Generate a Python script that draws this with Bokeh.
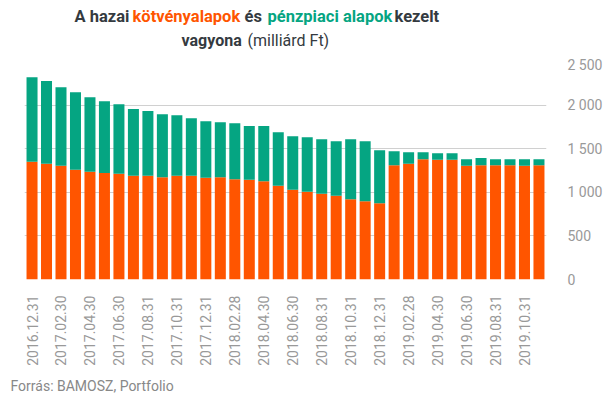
import math
from bokeh.plotting import figure
from bokeh.models import ColumnDataSource, FixedTicker, Range1d
from bokeh.layouts import column
from bokeh.core.properties import value
from bokeh.embed import file_html
from bokeh.resources import INLINE

dates = ["2016.12.31", "2017.01.31", "2017.02.30", "2017.03.31", "2017.04.30", "2017.05.31",
         "2017.06.30", "2017.07.31", "2017.08.31", "2017.09.30", "2017.10.31", "2017.11.30",
         "2017.12.31", "2018.01.31", "2018.02.28", "2018.03.31", "2018.04.30", "2018.05.31",
         "2018.06.30", "2018.07.31", "2018.08.31", "2018.09.30", "2018.10.31", "2018.11.30",
         "2018.12.31", "2019.01.31", "2019.02.28", "2019.03.31", "2019.04.30", "2019.05.31",
         "2019.06.30", "2019.07.31", "2019.08.31", "2019.09.30", "2019.10.31", "2019.11.30"]

kotveny = [1350, 1327, 1304, 1258, 1235, 1220, 1212, 1189, 1189, 1174, 1189, 1189,
           1166, 1174, 1151, 1143, 1128, 1074, 1028, 1005, 982, 960, 921, 898,
           875, 1311, 1327, 1380, 1372, 1372, 1304, 1311, 1311, 1311, 1304, 1311]

penzpiaci = [970, 948, 902, 890, 856, 825, 799, 765, 742, 722, 696, 661,
             650, 630, 642, 616, 631, 616, 616, 627, 627, 626, 688, 688,
             608, 161, 133, 80, 77, 77, 76, 81, 69, 69, 76, 69]

y_ticks = [0, 500, 1000, 1500, 2000, 2500]
y_tick_labels = ["0", "500", "1 000", "1 500", "2 000", "2 500"]

ORANGE = "#FF5500"
GREEN = "#05A582"
DARK = "#343a40"
GRAY = "#999999"
W = 605


def blank(height):
    f = figure(width=W, height=height, x_range=Range1d(0, W), y_range=Range1d(0, height),
               output_backend="svg", toolbar_location=None,
               x_axis_location=None, y_axis_location=None, frame_align=False,
               min_border_left=0, min_border_right=0, min_border_top=0, min_border_bottom=0)
    f.grid.visible = False
    f.outline_line_color = None
    return f


# ---- title strip ----
TH = 56
tf = blank(TH)
TFONT = "Roboto"


def seg(f, h, text, x, y_img, color, bold=True, size="16.5px", font=TFONT):
    f.text(x=[x], y=[h - y_img], text=[text], text_color=color,
           text_font=value(font), text_font_size=size,
           text_font_style="bold" if bold else "normal",
           text_baseline="alphabetic", text_align="left")


L1, L2 = 16, 40
seg(tf, TH, "A hazai", 74, L1, DARK)
seg(tf, TH, "kötvényalapok", 132, L1, ORANGE)
seg(tf, TH, "és", 244, L1, DARK)
seg(tf, TH, "pénzpiaci alapok", 267, L1, GREEN)
seg(tf, TH, "kezelt", 394, L1, DARK)
seg(tf, TH, "vagyona", 181, L2, DARK, size="16px")
seg(tf, TH, "(milliárd Ft)", 247, L2, DARK, bold=False, size="16px")

# ---- main chart ----
src = ColumnDataSource(dict(x=list(range(len(dates))), date=dates,
                            kotveny=kotveny, penzpiaci=penzpiaci))

MH = 316
p = figure(width=W, height=MH, x_range=Range1d(-0.52, 35.52), y_range=Range1d(0, 2500),
           output_backend="svg", toolbar_location=None, y_axis_location="right",
           frame_align=False,
           min_border_left=24, min_border_right=58, min_border_top=5, min_border_bottom=93)
p.outline_line_color = None

p.vbar_stack(["kotveny", "penzpiaci"], x="x", width=0.76, source=src,
             color=[ORANGE, GREEN], line_color=None)

p.xgrid.visible = False
p.ygrid.grid_line_color = "#d0d0d0"
p.ygrid.grid_line_width = 1.2
p.ygrid.ticker = FixedTicker(ticks=y_ticks)

xa = p.xaxis[0]
xa.ticker = FixedTicker(ticks=list(range(0, len(dates), 2)))
xa.major_label_overrides = {i: dates[i] for i in range(0, len(dates), 2)}
xa.major_label_orientation = math.pi / 2
xa.axis_line_color = None
xa.major_tick_line_color = None
xa.minor_tick_line_color = None
xa.major_label_standoff = 10
xa.major_label_text_color = GRAY
xa.major_label_text_font = "Roboto"
xa.major_label_text_font_size = "14px"

ya = p.yaxis[0]
ya.ticker = FixedTicker(ticks=y_ticks)
ya.major_label_overrides = {t: l for t, l in zip(y_ticks, y_tick_labels)}
ya.axis_line_color = None
ya.major_tick_line_color = None
ya.minor_tick_line_color = None
ya.major_label_standoff = 15
ya.major_label_text_color = GRAY
ya.major_label_text_font = "Roboto"
ya.major_label_text_font_size = "14px"
ya.major_label_text_align = "left"

# ---- source strip ----
SH = 397 - TH - MH
sf = blank(SH)
seg(sf, SH, "Forrás: BAMOSZ, Portfolio", 10, 385 - (TH + MH), "#888888",
    bold=False, size="14px", font="Roboto")

layout = column(tf, p, sf, spacing=0)
open("out.html", "w").write(file_html(layout, INLINE))
